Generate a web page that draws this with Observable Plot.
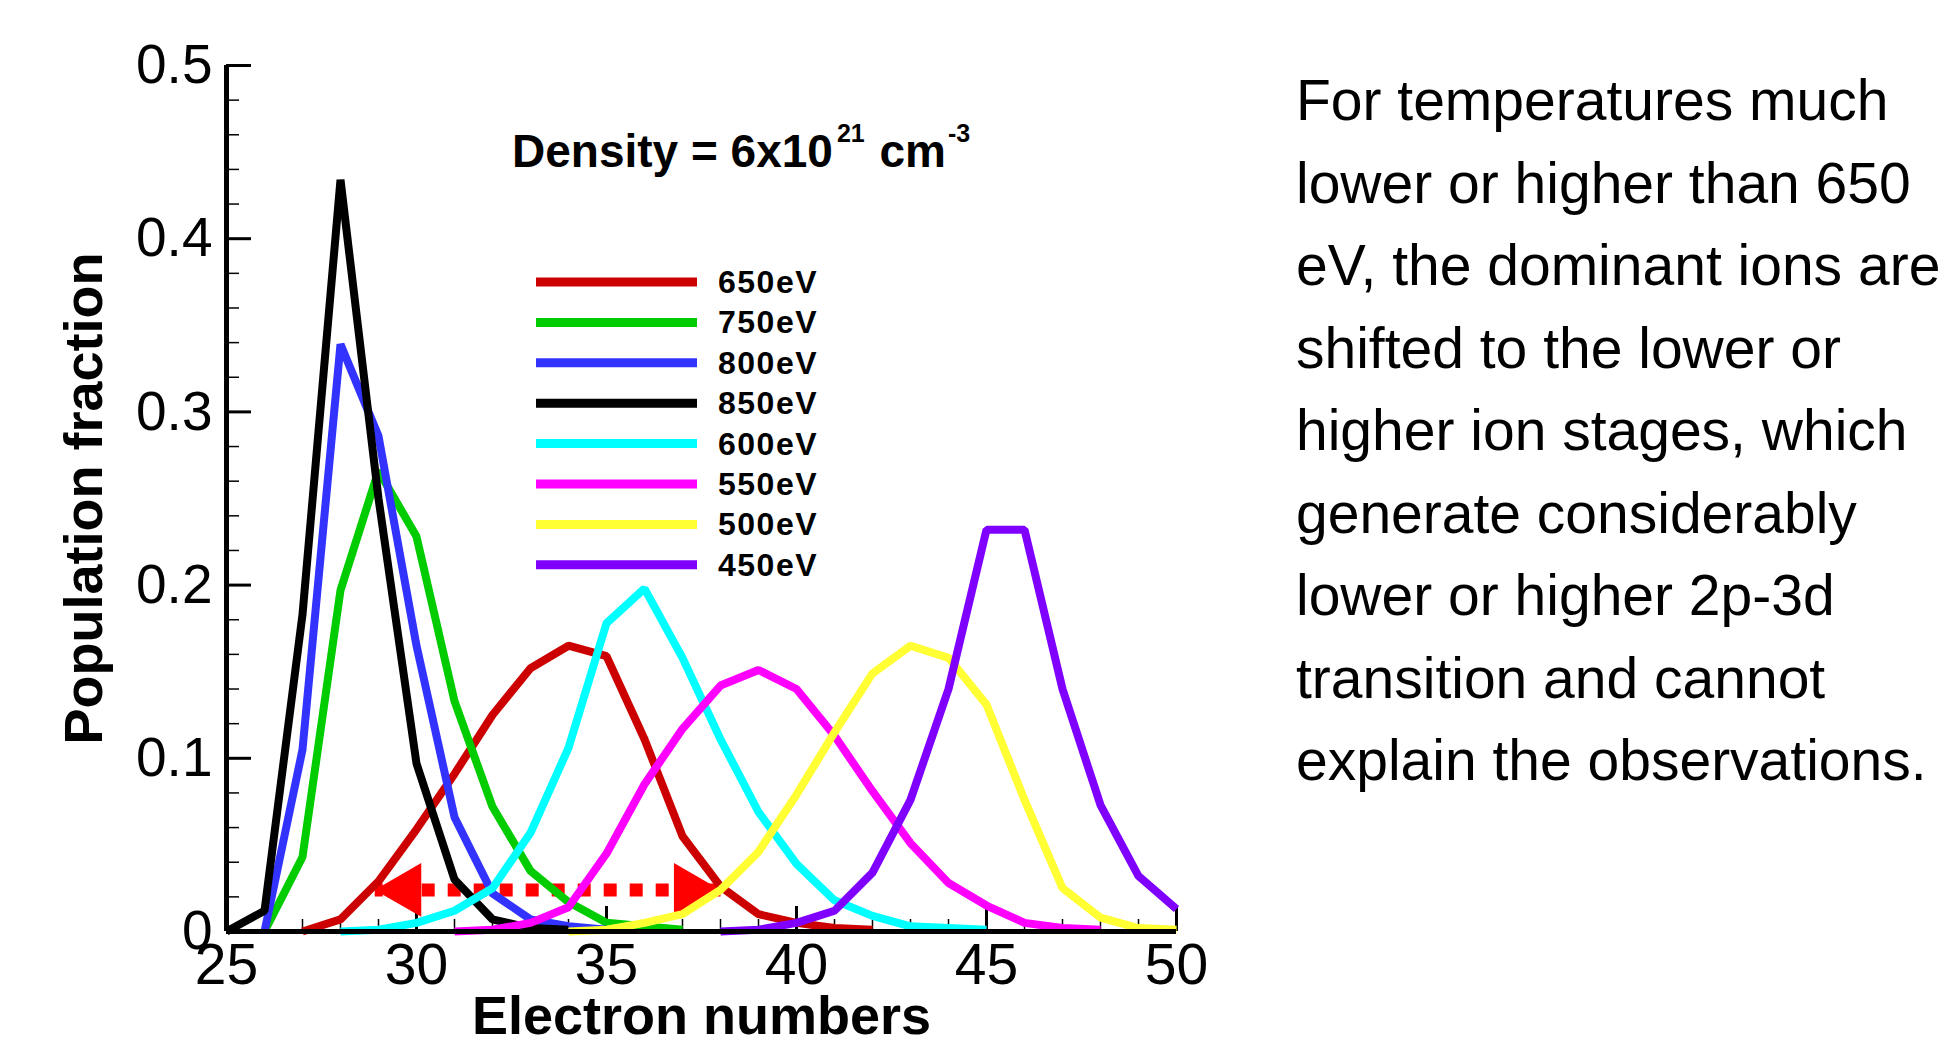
<!DOCTYPE html>
<html>
<head>
<meta charset="utf-8">
<script src="https://cdn.jsdelivr.net/npm/d3@7"></script>
<script src="https://cdn.jsdelivr.net/npm/@observablehq/plot@0.6"></script>
<style>
  html, body { margin: 0; padding: 0; background: #fff; }
  body { width: 1947px; height: 1041px; overflow: hidden; position: relative;
         font-family: 'Liberation Sans', Arial, sans-serif; }
  #chart { position: absolute; left: 0; top: 0; }
  #note { position: absolute; left: 1296px; top: 59px; font-size: 57px; line-height: 82.5px;
          white-space: pre; color: #000; }
</style>
</head>
<body>
<div id="chart"></div>
<div id="note"></div>
<script>
// ---- data ----
const temps  = ["650eV", "750eV", "800eV", "850eV", "600eV", "550eV", "500eV", "450eV"];
const colors = ["#cc0000", "#00cc00", "#3333ff", "#000000", "#00ffff", "#ff00ff", "#ffff33", "#8000ff"];
const firstElectron = [27, 26, 26, 25, 28, 31, 34, 38];
const frac650 = [0, 0.007, 0.029, 0.059, 0.091, 0.125, 0.152, 0.165, 0.159, 0.111, 0.055, 0.026, 0.010, 0.005, 0.002, 0.001];
const frac750 = [0, 0.043, 0.197, 0.266, 0.228, 0.133, 0.072, 0.035, 0.017, 0.005, 0.003, 0.001];
const frac800 = [0, 0.105, 0.339, 0.286, 0.165, 0.066, 0.022, 0.007, 0.003, 0.001];
const frac850 = [0, 0.012, 0.183, 0.434, 0.250, 0.097, 0.030, 0.007, 0.002, 0.001];
const frac600 = [0, 0.001, 0.005, 0.012, 0.025, 0.057, 0.106, 0.178, 0.198, 0.158, 0.111, 0.069, 0.039, 0.018, 0.009, 0.003, 0.002, 0.001];
const frac550 = [0, 0.001, 0.005, 0.014, 0.045, 0.085, 0.117, 0.142, 0.151, 0.140, 0.113, 0.081, 0.051, 0.028, 0.015, 0.005, 0.002, 0.001];
const frac500 = [0, 0.001, 0.005, 0.010, 0.024, 0.046, 0.079, 0.115, 0.149, 0.165, 0.158, 0.131, 0.076, 0.025, 0.008, 0.002, 0.001];
const frac450 = [0, 0.001, 0.005, 0.012, 0.034, 0.076, 0.140, 0.232, 0.232, 0.140, 0.073, 0.032, 0.013];
const fractions = [frac650, frac750, frac800, frac850, frac600, frac550, frac500, frac450];

const xMajor = [25, 30, 35, 40, 45, 50];
const xMinor = d3.range(26, 50).filter(v => v % 5 !== 0);
const yMajor = [0, 0.1, 0.2, 0.3, 0.4, 0.5];
const yMinor = [0.02, 0.04, 0.06, 0.08, 0.12, 0.14, 0.16, 0.18, 0.22, 0.24, 0.26, 0.28, 0.32, 0.34, 0.36, 0.38, 0.42, 0.44, 0.46, 0.48];

// double-headed arrow (electron numbers of the two tips, population level)
const arrowTips = [28.9, 38.0];
const arrowLevel = 0.024;

const densityLabel = ["Density = 6x10", "21", " cm", "-3"];
const noteLines = [
  "For temperatures much",
  "lower or higher than 650",
  "eV, the dominant ions are",
  "shifted to the lower or",
  "higher ion stages, which",
  "generate considerably",
  "lower or higher 2p-3d",
  "transition and cannot",
  "explain the observations."
];

// ---- build tables ----
const seriesData = temps.map((t, i) =>
  fractions[i].map((v, j) => ({series: t, electrons: firstElectron[i] + j, fraction: v})));
const shaft = arrowTips.map(x => ({x, y: arrowLevel}));

const W = 1240, H = 1041, ML = 226, MR = 64, MT = 65, MB = 110;
const fw = W - ML - MR, fh = H - MT - MB;
const FONT = "'Liberation Sans', Arial, Helvetica, sans-serif";

const lineMarks = seriesData.map((d, i) =>
  Plot.line(d, {x: "electrons", y: "fraction", stroke: colors[i], strokeWidth: 8,
                strokeLinejoin: "miter", strokeLinecap: "butt"}));

const chart = Plot.plot({
  width: W, height: H,
  marginLeft: ML, marginRight: MR, marginTop: MT, marginBottom: MB,
  x: {domain: [25, 50]},
  y: {domain: [0, 0.5]},
  style: {fontFamily: FONT, background: "transparent", color: "#000", overflow: "visible"},
  marks: [
    Plot.ruleY(yMinor, {y: d => d, insetRight: fw - 13, strokeWidth: 1.5}),
    Plot.ruleY(yMajor, {y: d => d, insetRight: fw - 25, strokeWidth: 3}),
    Plot.ruleX(xMinor, {x: d => d, insetTop: fh - 12, strokeWidth: 1.5}),
    Plot.ruleX(xMajor, {x: d => d, insetTop: fh - 25, strokeWidth: 3}),
    Plot.axisX({ticks: xMajor, tickSize: 0, tickPadding: 12, fontSize: 57, label: null, tickFormat: d => String(d)}),
    Plot.axisY({ticks: yMajor, tickSize: 0, tickPadding: 14, fontSize: 55, label: null,
                tickFormat: d => d === 0 ? "0" : d.toFixed(1)}),
    // red dotted double arrow
    Plot.line(shaft, {x: "x", y: "y", stroke: "#ff0000", strokeWidth: 13,
                      strokeDasharray: "13,13", strokeDashoffset: 5, strokeLinecap: "butt"}),
    Plot.dot([shaft[0]], {x: "x", y: "y", symbol: "triangle", r: 20, fill: "#ff0000", stroke: null, rotate: -90, dx: 31}),
    Plot.dot([shaft[1]], {x: "x", y: "y", symbol: "triangle", r: 20, fill: "#ff0000", stroke: null, rotate: 90, dx: -31}),
    ...lineMarks,
    // axis lines
    Plot.ruleX([25], {strokeWidth: 5}),
    Plot.ruleY([0], {strokeWidth: 5}),
    // axis titles
    Plot.text(["Electron numbers"], {frameAnchor: "bottom", lineAnchor: "bottom", dy: 102,
                                     fontSize: 54, fontWeight: "bold"}),
    Plot.text(["Population fraction"], {frameAnchor: "left", textAnchor: "middle", rotate: -90, dx: -142,
                                        lineAnchor: "middle", fontSize: 54, fontWeight: "bold"})
  ]
});
document.getElementById("chart").appendChild(chart);

const svg = d3.select(chart);

// density annotation
const dens = svg.append("text").attr("x", 512).attr("y", 167).attr("text-anchor", "start")
  .attr("font-family", FONT).attr("font-weight", "bold").attr("font-size", 46).attr("fill", "#000");
dens.append("tspan").text(densityLabel[0]);
dens.append("tspan").attr("dx", 4).attr("dy", -25).attr("font-size", 25).text(densityLabel[1]);
dens.append("tspan").attr("dx", 2).attr("dy", 25).text(densityLabel[2]);
dens.append("tspan").attr("dx", 2).attr("dy", -25).attr("font-size", 25).text(densityLabel[3]);

// legend
const leg = svg.append("g");
temps.forEach((t, i) => {
  const cy = 282 + i * 40.4;
  leg.append("line").attr("x1", 536).attr("x2", 697).attr("y1", cy).attr("y2", cy)
    .attr("stroke", colors[i]).attr("stroke-width", 9);
  leg.append("text").attr("x", 718).attr("y", cy + 11).attr("text-anchor", "start").attr("font-family", FONT)
    .attr("font-weight", "bold").attr("font-size", 32).attr("letter-spacing", 1.5)
    .attr("fill", "#000").text(t);
});

document.getElementById("note").textContent = noteLines.join("\n");
</script>
</body>
</html>
